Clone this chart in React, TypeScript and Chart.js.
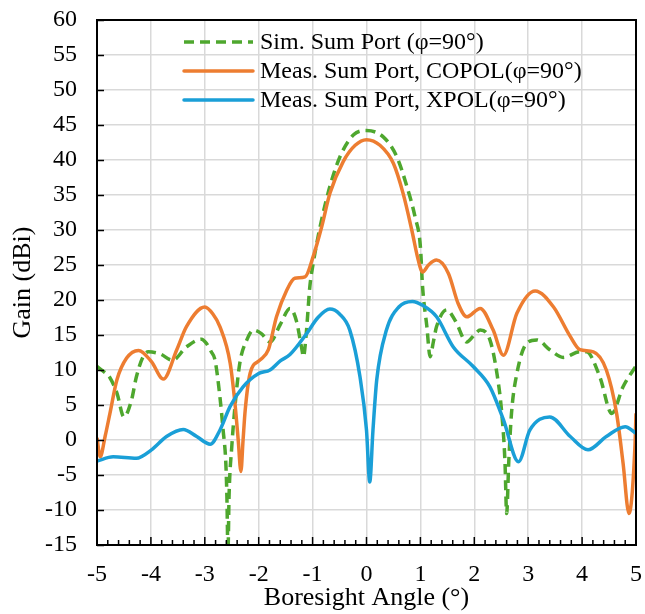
import React, { useEffect, useRef } from "react";
import { Chart, registerables } from "chart.js";

Chart.register(...registerables);

// ---- Data ----
const simX = [-5.0, -4.88, -4.76, -4.63, -4.5, -4.36, -4.27, -4.15, -4.05, -3.83, -3.6, -3.34, -3.06, -2.97, -2.88, -2.81, -2.72, -2.66, -2.61, -2.59, -2.57, -2.55, -2.5, -2.44, -2.35, -2.22, -2.1, -1.95, -1.79, -1.6, -1.42, -1.3, -1.2, -1.17, -1.12, -1.05, -0.99, -0.86, -0.68, -0.49, -0.24, 0.0, 0.31, 0.56, 0.75, 0.9, 1.0, 1.04, 1.12, 1.18, 1.24, 1.3, 1.49, 1.65, 1.86, 2.0, 2.11, 2.29, 2.42, 2.51, 2.57, 2.6, 2.64, 2.69, 2.79, 2.97, 3.16, 3.4, 3.65, 3.96, 4.08, 4.33, 4.55, 4.76, 5.0];
const simY = [10.5, 9.8, 8.9, 6.7, 3.3, 5.7, 9.0, 11.8, 12.6, 12.3, 11.4, 13.3, 14.4, 13.8, 12.6, 11.4, 6.2, 1.4, -3.3, -8.1, -16, -8.0, -1.0, 4.8, 11.0, 14.3, 15.7, 15.2, 14.0, 16.5, 18.8, 17.0, 13.0, 11.9, 15.0, 22.0, 25.2, 30.5, 36.2, 40.5, 43.6, 44.2, 43.3, 40.5, 36.2, 31.9, 27.6, 21.9, 16.2, 11.9, 14.0, 16.2, 18.6, 17.0, 14.0, 15.0, 15.7, 14.3, 9.5, 3.8, -3.3, -10.5, -3.0, 3.8, 9.5, 13.8, 14.3, 12.9, 11.8, 12.6, 12.6, 9.0, 3.8, 7.6, 10.6];

const coX = [-5.0, -4.94, -4.85, -4.76, -4.63, -4.45, -4.23, -3.99, -3.77, -3.52, -3.34, -3.0, -2.85, -2.72, -2.53, -2.44, -2.38, -2.33, -2.29, -2.25, -2.16, -1.98, -1.82, -1.67, -1.48, -1.33, -1.14, -0.99, -0.83, -0.68, -0.43, -0.21, 0.0, 0.25, 0.5, 0.68, 0.84, 0.96, 1.04, 1.15, 1.3, 1.52, 1.7, 1.86, 2.11, 2.35, 2.54, 2.79, 3.13, 3.47, 3.78, 3.96, 4.21, 4.45, 4.64, 4.76, 4.87, 4.98, 5.0];
const coY = [0.3, -2.4, 0.5, 3.8, 8.6, 11.7, 12.8, 11.2, 8.7, 12.9, 16.2, 19.0, 18.0, 16.2, 11.0, 5.2, 0.0, -4.5, 0.0, 4.3, 9.5, 11.4, 12.9, 17.6, 21.4, 23.1, 23.3, 26.2, 30.5, 35.2, 39.8, 42.1, 42.9, 42.1, 39.5, 35.2, 30.0, 25.7, 24.0, 25.0, 25.7, 23.8, 19.5, 17.6, 18.8, 15.7, 12.1, 18.1, 21.3, 19.0, 14.8, 12.9, 12.6, 10.0, 3.8, -3.3, -10.5, -1.0, 3.8];

const xpX = [-5.0, -4.7, -4.27, -3.99, -3.71, -3.4, -3.15, -2.9, -2.72, -2.53, -2.29, -2.0, -1.79, -1.6, -1.42, -1.11, -0.9, -0.68, -0.5, -0.31, -0.12, 0.0, 0.06, 0.12, 0.19, 0.37, 0.6, 0.85, 1.05, 1.3, 1.61, 1.98, 2.29, 2.54, 2.82, 3.03, 3.4, 3.78, 4.11, 4.45, 4.8, 5.0];
const xpY = [-3.0, -2.4, -2.6, -1.4, 0.5, 1.5, 0.5, -0.6, 1.4, 4.8, 7.6, 9.5, 10.0, 11.3, 12.2, 15.2, 17.5, 18.7, 18.0, 15.7, 9.0, 1.4, -6.0, 1.4, 8.6, 15.7, 19.0, 19.8, 19.2, 17.6, 13.3, 10.5, 7.6, 2.9, -3.1, 1.4, 3.3, 0.5, -1.4, 0.5, 1.9, 0.95];

const seriesLabels = [
  "Sim. Sum Port (\u03c6=90\u00b0)",
  "Meas. Sum Port, COPOL(\u03c6=90\u00b0)",
  "Meas. Sum Port, XPOL(\u03c6=90\u00b0)",
];

const xTitle = "Boresight Angle (\u00b0)";
const yTitle = "Gain (dBi)";

const GREEN = "#4EA72E";
const ORANGE = "#ED7D31";
const BLUE = "#1A9FD7";
const FONT = '"Liberation Serif", "Times New Roman", serif';

const toPts = (xs: number[], ys: number[]) => xs.map((x, i) => ({ x, y: ys[i] }));

const decor = {
  id: "decor",
  afterDraw(chart: any) {
    const { ctx, chartArea } = chart;
    const { left, right, top, bottom } = chartArea;
    const xs = chart.scales.x;
    const ys = chart.scales.y;
    ctx.save();
    ctx.strokeStyle = "#000";
    ctx.lineWidth = 1.5;
    ctx.beginPath();
    for (let v = -15; v <= 60; v += 5) {
      const py = Math.round(ys.getPixelForValue(v)) + 0.5;
      ctx.moveTo(left, py);
      ctx.lineTo(left + 7, py);
    }
    for (let k = -25; k <= 25; k++) {
      const v = k / 5;
      const px = xs.getPixelForValue(v);
      const len = k % 5 === 0 ? 8 : 5;
      ctx.moveTo(px, bottom);
      ctx.lineTo(px, bottom - len);
    }
    ctx.stroke();
    ctx.lineWidth = 2;
    ctx.strokeRect(left, top, right - left, bottom - top);

    // legend
    const rows = [42, 71, 100];
    const colors = [GREEN, ORANGE, BLUE];
    ctx.font = `24px ${FONT}`;
    ctx.textBaseline = "middle";
    ctx.textAlign = "left";
    rows.forEach((ry, i) => {
      ctx.beginPath();
      ctx.strokeStyle = colors[i];
      ctx.lineWidth = 3.5;
      ctx.lineCap = i === 0 ? "butt" : "round";
      ctx.setLineDash(i === 0 ? [10, 6] : []);
      ctx.moveTo(184, ry);
      ctx.lineTo(253, ry);
      ctx.stroke();
      ctx.setLineDash([]);
      ctx.fillStyle = "#000";
      ctx.fillText(seriesLabels[i], 260, ry + 1);
    });
    ctx.restore();
  },
};

export default function App() {
  const ref = useRef<HTMLCanvasElement>(null);
  useEffect(() => {
    if (!ref.current) return;
    const common = {
      showLine: true,
      pointRadius: 0,
      borderWidth: 3.5,
      cubicInterpolationMode: "monotone" as const,
      fill: false,
    };
    const chart = new Chart(ref.current, {
      type: "scatter",
      data: {
        datasets: [
          { ...common, label: seriesLabels[0], data: toPts(simX, simY), borderColor: GREEN, backgroundColor: GREEN, borderDash: [10, 6], order: 3 },
          { ...common, label: seriesLabels[1], data: toPts(coX, coY), borderColor: ORANGE, backgroundColor: ORANGE, order: 2 },
          { ...common, label: seriesLabels[2], data: toPts(xpX, xpY), borderColor: BLUE, backgroundColor: BLUE, order: 1 },
        ],
      },
      options: {
        responsive: false,
        animation: false,
        layout: { padding: { left: 0, right: 9, top: 20, bottom: 0 } },
        plugins: { legend: { display: false }, tooltip: { enabled: false } },
        scales: {
          x: {
            type: "linear",
            min: -5,
            max: 5,
            afterFit: (s: any) => { s.height = 69; s.paddingLeft = 0; s.paddingRight = 0; },
            ticks: { stepSize: 1, color: "#000", font: { family: FONT, size: 24 }, padding: 15, maxRotation: 0 },
            grid: { color: "#d9d9d9", lineWidth: 1.5, drawTicks: false },
            border: { display: false },
            title: { display: true, text: xTitle, color: "#000", font: { family: FONT, size: 26 }, padding: { top: 0, bottom: 0 } },
          },
          y: {
            min: -15,
            max: 60,
            afterFit: (s: any) => { s.width = 97; s.paddingTop = 0; s.paddingBottom = 0; },
            ticks: { stepSize: 5, color: "#000", font: { family: FONT, size: 24 }, padding: 20 },
            grid: { color: "#d9d9d9", lineWidth: 1.5, drawTicks: false },
            border: { display: false },
            title: { display: true, text: yTitle, color: "#000", font: { family: FONT, size: 26 }, padding: { top: 8, bottom: 0 } },
          },
        },
      },
      plugins: [decor],
    } as any);
    return () => chart.destroy();
  }, []);
  return (
    <canvas
      ref={ref}
      width={645}
      height={614}
      style={{ position: "absolute", left: 0, top: 0, display: "block", width: 645, height: 614 }}
    />
  );
}
